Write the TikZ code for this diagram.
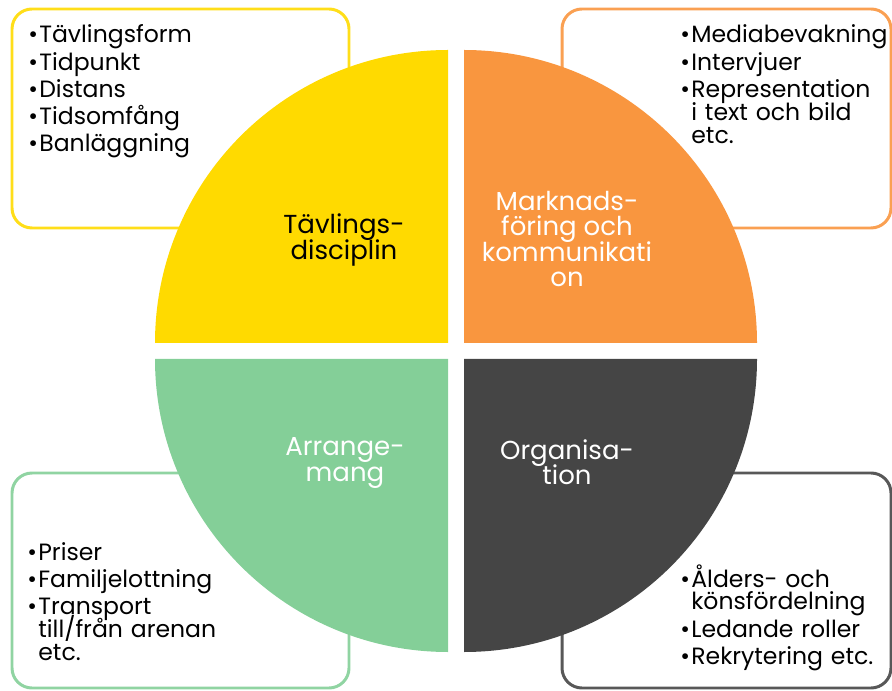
\documentclass[tikz,border=0pt]{standalone}
\usepackage{fontspec}
\setmainfont{Poppins}
\definecolor{gul}{HTML}{FFDA00}
\definecolor{ora}{HTML}{F9963F}
\definecolor{gron}{HTML}{84CF98}
\definecolor{mork}{HTML}{454545}
\newcommand{\bul}{\makebox[0.22cm][l]{•}}
\newcommand{\ind}{\hspace*{0.22cm}}
\newcommand{\tatt}{\lineskiplimit -20pt\relax}
\begin{document}
\begin{tikzpicture}[x=0.02cm,y=0.02cm,line join=round,
	ram/.style={line width=1.7pt,fill=white,rounded corners=0.4cm},
	lista/.style={anchor=base west,inner sep=0pt,align=left,text width=5cm,
		font=\fontsize{13.4}{13}\selectfont\tatt},
	rubrik/.style={align=center,inner sep=0pt,
		font=\fontsize{14.8}{14.5}\selectfont\tatt}]
	\useasboundingbox (0,0) rectangle (892,690);
	% ramar bakom
	\draw[ram,draw=gul!90] (12,462) rectangle (349,681);
	\draw[ram,draw=ora!90] (562,462) rectangle (891,681);
	\draw[ram,draw=gron!90] (12,2) rectangle (349,217);
	\draw[ram,draw=mork!90] (562,2) rectangle (891,217);
	% kvadranter
	\fill[gul] (448,347) -- (155,347) arc[start angle=180,end angle=90,radius=293] -- cycle;
	\fill[ora] (464,347) -- (464,640) arc[start angle=90,end angle=0,radius=293] -- cycle;
	\fill[gron] (448,331) -- (448,38) arc[start angle=270,end angle=180,radius=293] -- cycle;
	\fill[mork] (464,331) -- (757,331) arc[start angle=0,end angle=-90,radius=293] -- cycle;
	% rubriker
	\node[rubrik] (disciplin) at (344,450) {Tävlings-\\disciplin};
	\node[rubrik,white] (marknad) at (567,451) {Marknads-\\föring och\\kommunikati\\on};
	\node[rubrik,white] (arrangemang) at (345,227) {Arrange-\\mang};
	\node[rubrik,white] (organisation) at (567,228) {Organisa-\\tion};
	% listor
	\node[lista] (tavling) at (28,647) {\bul Tävlingsform\\[2.5pt]\bul Tidpunkt\\[2.5pt]\bul Distans\\[2.5pt]\bul Tidsomfång\\[2.5pt]\bul Banläggning};
	\node[lista] (media) at (680,647) {\bul Mediabevakning\\[2.5pt]\bul Intervjuer\\[2.5pt]\bul Representation\\\ind i text och bild\\\ind etc.};
	\node[lista] (priser) at (27,130) {\bul Priser\\[2.5pt]\bul Familjelottning\\[2.5pt]\bul Transport\\\ind till/från arenan\\\ind etc.};
	\node[lista] (alder) at (680,103) {\bul Ålders- och\\\ind könsfördelning\\[2.5pt]\bul Ledande roller\\[2.5pt]\bul Rekrytering etc.};
\end{tikzpicture}
\end{document}
